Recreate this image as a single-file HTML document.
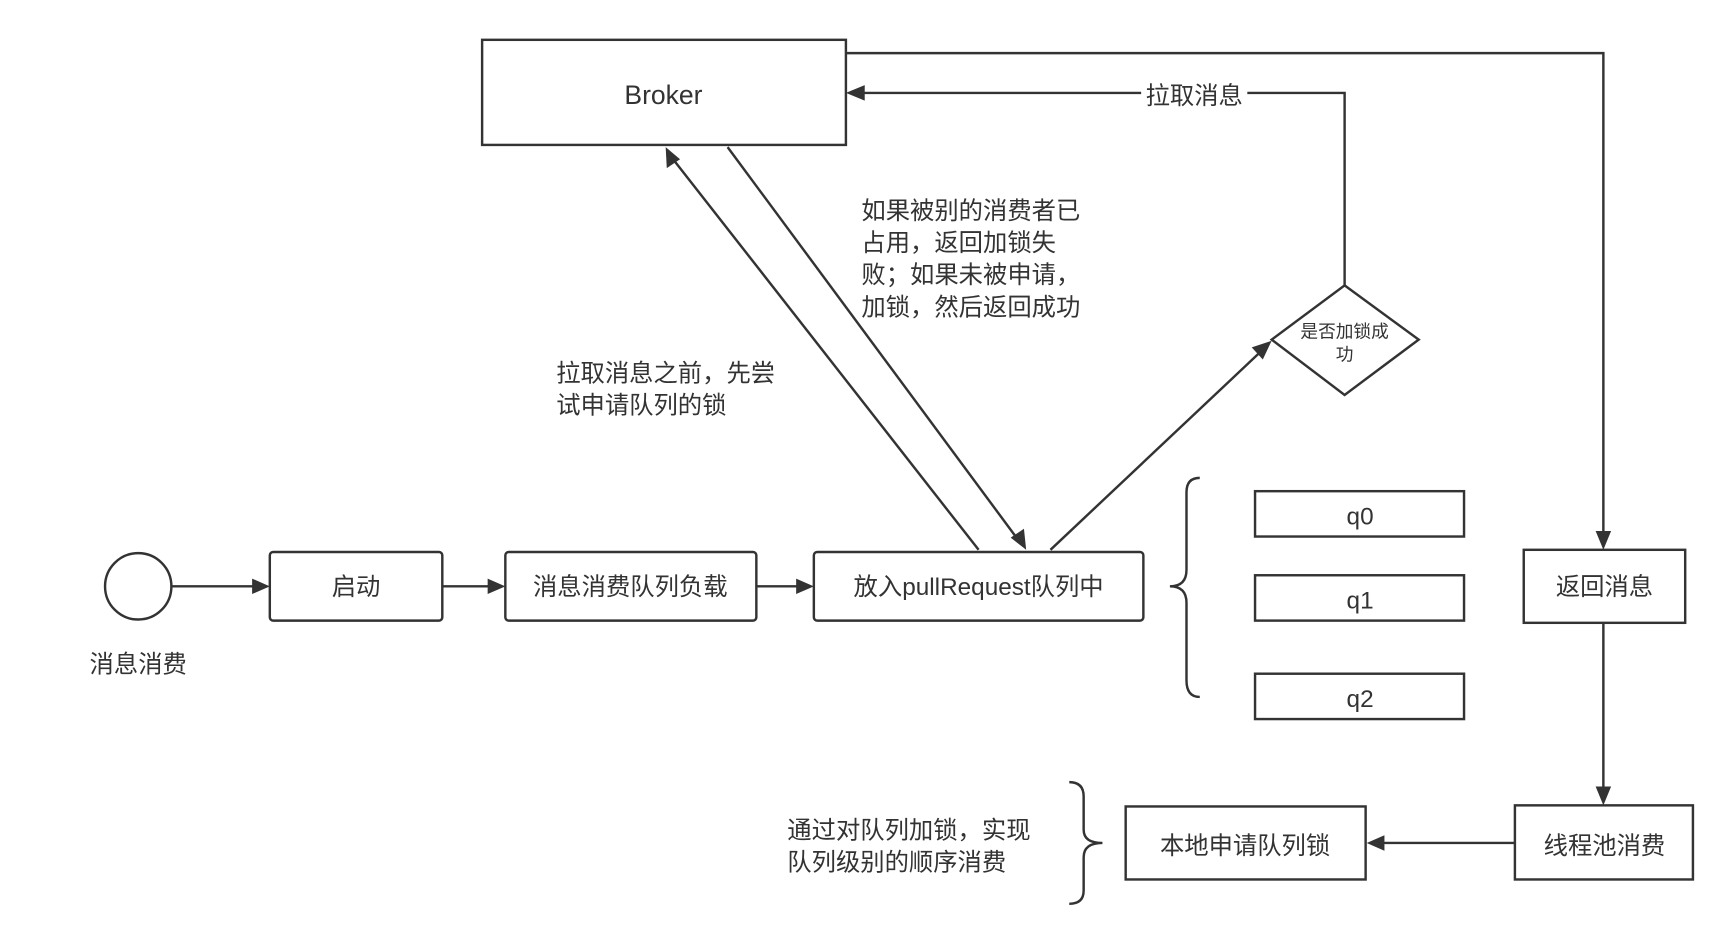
<!DOCTYPE html>
<html><head><meta charset="utf-8"><style>
html,body{margin:0;padding:0;background:#fff;}
svg{display:block;}
text{font-family:"Liberation Sans","Noto Sans CJK SC",sans-serif;fill:#333;}
</style></head><body>
<svg width="1725" height="937" viewBox="0 0 1560 847" preserveAspectRatio="none" xmlns="http://www.w3.org/2000/svg">
<defs>
<marker id="a" viewBox="0 0 10 10" refX="9" refY="5" markerWidth="7" markerHeight="7" markerUnits="userSpaceOnUse" orient="auto">
</marker>
</defs>
<g stroke="#333" stroke-width="2.2" fill="none">
<rect x="436" y="36" width="329" height="95" fill="#fff"/>
<polyline points="765,48 1450,48 1450,482"/>
<polyline points="1216,258 1216,84 780,84"/>
<line x1="950" y1="497" x2="1140" y2="318"/>
<line x1="885" y1="497" x2="608" y2="143"/>
<line x1="658" y1="133" x2="920" y2="487"/>
<polygon points="1216,258 1283,307 1216,357 1150,307" fill="#fff"/>
<circle cx="125" cy="530" r="30"/>
<line x1="155" y1="530" x2="232" y2="530"/>
<rect x="244" y="499" width="156" height="62" rx="3" fill="#fff"/>
<line x1="400" y1="530" x2="445" y2="530"/>
<rect x="457" y="499" width="227" height="62" rx="3" fill="#fff"/>
<line x1="684" y1="530" x2="724" y2="530"/>
<rect x="736" y="499" width="298" height="62" rx="3" fill="#fff"/>
<path d="M1085,432 Q1073,432 1073,445 L1073,515 Q1073,530 1058,530 Q1073,530 1073,545 L1073,615 Q1073,630 1085,630"/>
<rect x="1135" y="444" width="189" height="41"/>
<rect x="1135" y="520" width="189" height="41"/>
<rect x="1135" y="609" width="189" height="41"/>
<rect x="1378" y="497" width="146" height="66"/>
<line x1="1450" y1="563" x2="1450" y2="714"/>
<rect x="1370" y="728" width="161" height="67"/>
<line x1="1370" y1="762" x2="1250" y2="762"/>
<rect x="1018" y="729" width="217" height="66"/>
<path d="M967,707 Q980,707 980,720 L980,750 Q980,762 997,762 Q980,762 980,775 L980,805 Q980,817 967,817"/>
</g>
<g fill="#333">
<polygon points="1450,497 1443,480 1457,480"/>
<polygon points="765,84 782,77 782,91"/>
<polygon points="1150,308 1142,325 1132,314"/>
<polygon points="602,133 603,152 615,144"/>
<polygon points="928,497 914,486 926,478"/>
<polygon points="244,530 228,523 228,537"/>
<polygon points="457,530 441,523 441,537"/>
<polygon points="736,530 720,523 720,537"/>
<polygon points="1450,728 1443,711 1457,711"/>
<polygon points="1236,762 1252,755 1252,769"/>
</g>
<rect x="1032" y="72" width="96" height="26" fill="#fff"/>
<g font-size="22">
<text x="600" y="94" text-anchor="middle" font-size="24">Broker</text>
<text x="1080" y="94" text-anchor="middle">拉取消息</text>
<text x="779" y="198">如果被别的消费者已</text>
<text x="779" y="227">占用，返回加锁失</text>
<text x="779" y="256">败；如果未被申请，</text>
<text x="779" y="285">加锁，然后返回成功</text>
<text x="503" y="345">拉取消息之前，先尝</text>
<text x="503" y="374">试申请队列的锁</text>
<text x="1216" y="305" text-anchor="middle" font-size="16">是否加锁成</text>
<text x="1216" y="326" text-anchor="middle" font-size="16">功</text>
<text x="125" y="608" text-anchor="middle">消息消费</text>
<text x="322" y="538" text-anchor="middle">启动</text>
<text x="570" y="538" text-anchor="middle">消息消费队列负载</text>
<text x="885" y="538" text-anchor="middle">放入pullRequest队列中</text>
<text x="1230" y="474" text-anchor="middle">q0</text>
<text x="1230" y="550" text-anchor="middle">q1</text>
<text x="1230" y="639" text-anchor="middle">q2</text>
<text x="1451" y="538" text-anchor="middle">返回消息</text>
<text x="1451" y="772" text-anchor="middle">线程池消费</text>
<text x="1126" y="772" text-anchor="middle">本地申请队列锁</text>
<text x="712" y="758">通过对队列加锁，实现</text>
<text x="712" y="787">队列级别的顺序消费</text>
</g>
</svg>
</body></html>
